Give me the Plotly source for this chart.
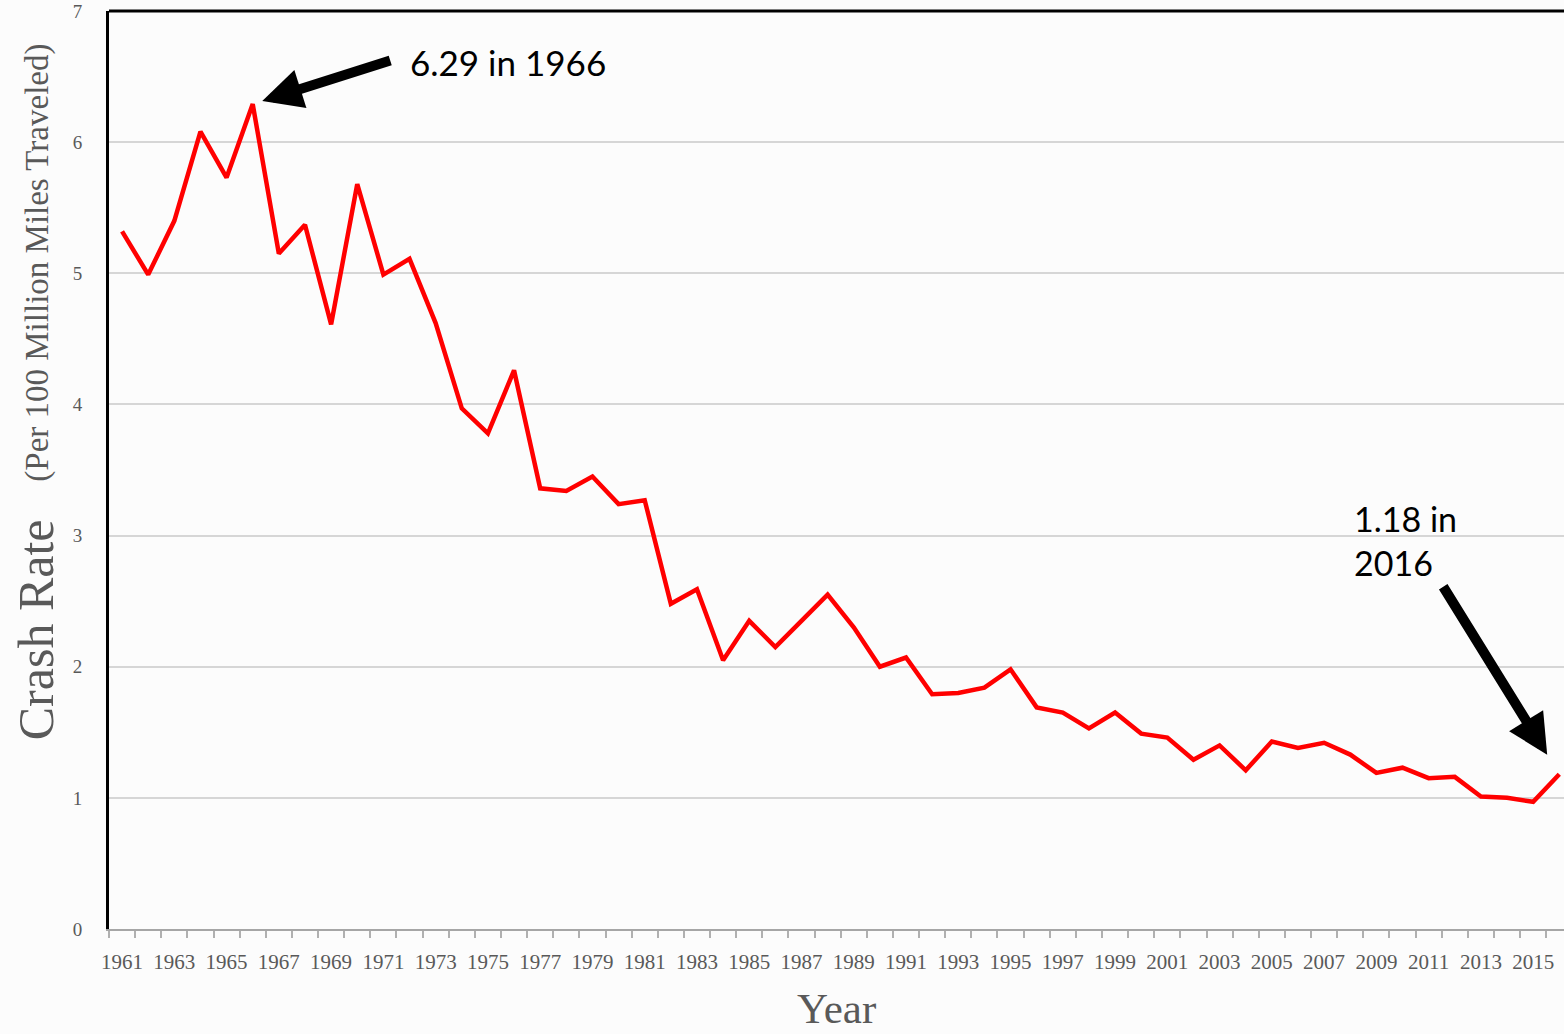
import plotly.graph_objects as go

years = list(range(1961, 2017))
crash_rate = [5.32, 4.99, 5.40, 6.08, 5.73, 6.29, 5.15, 5.37, 4.61, 5.68,
              4.99, 5.11, 4.62, 3.97, 3.78, 4.26, 3.36, 3.34, 3.45, 3.24,
              3.27, 2.48, 2.59, 2.05, 2.35, 2.15, 2.35, 2.55, 2.30, 2.00,
              2.07, 1.79, 1.80, 1.84, 1.98, 1.69, 1.65, 1.53, 1.65, 1.49,
              1.46, 1.29, 1.40, 1.21, 1.43, 1.38, 1.42, 1.33, 1.19, 1.23,
              1.15, 1.16, 1.01, 1.00, 0.97, 1.18]
tick_years = list(range(1961, 2016, 2))
y_ticks = [0, 1, 2, 3, 4, 5, 6, 7]

peak_label = "6.29 in 1966"
last_label = "1.18 in<br>2016"
y_title_main = "Crash Rate"
y_title_sub = "(Per 100 Million Miles Traveled)"
x_title = "Year"

GRAY = "#595959"
SERIF = "Liberation Serif, Times New Roman, serif"
SANS = "Lato, Liberation Sans, sans-serif"

fig = go.Figure()
fig.add_trace(go.Scatter(
    x=years, y=crash_rate, mode="lines",
    line=dict(color="#ff0000", width=4.5), hoverinfo="x+y", showlegend=False,
))

fig.update_layout(
    width=1564, height=1034,
    margin=dict(l=109, r=0, t=11, b=105),
    paper_bgcolor="#fcfcfc", plot_bgcolor="#fcfcfc",
    xaxis=dict(
        range=[1960.5, 2016.18],
        tickmode="array", tickvals=tick_years,
        ticktext=[str(y) for y in tick_years],
        ticks="", showgrid=False, zeroline=False,
        showline=True, linecolor="#a6a6a6", linewidth=2,
        tickfont=dict(family=SERIF, size=21, color=GRAY),
        ticklabelstandoff=13,
        minor=dict(tickmode="linear", tick0=1960.5, dtick=1, ticks="outside",
                   ticklen=7, tickwidth=1.5, tickcolor="#b0b0b0", showgrid=False),
    ),
    yaxis=dict(
        range=[0, 7], tickmode="array", tickvals=y_ticks,
        ticktext=[str(v) for v in y_ticks],
        showgrid=True, gridcolor="#d6d6d6", gridwidth=1.5,
        zeroline=False, showline=True, linecolor="black", linewidth=3,
        ticks="", tickfont=dict(family=SERIF, size=19, color=GRAY),
        ticklabelstandoff=20,
    ),
    shapes=[dict(type="line", xref="paper", yref="paper", x0=0, x1=1, y0=1, y1=1,
                 line=dict(color="black", width=3))],
    annotations=[
        dict(x=years[5], y=crash_rate[5], xref="x", yref="y", text="",
             showarrow=True, arrowhead=2, arrowsize=0.8, arrowwidth=10,
             arrowcolor="black", axref="pixel", ayref="pixel",
             ax=139, ay=-44, standoff=10),
        dict(x=years[-1], y=crash_rate[-1], xref="x", yref="y", text="",
             showarrow=True, arrowhead=2, arrowsize=0.8, arrowwidth=10,
             arrowcolor="black", axref="pixel", ayref="pixel",
             ax=-117, ay=-189, standoff=23),
        dict(x=0.2055, y=0.9444, xref="paper", yref="paper", text=peak_label,
             showarrow=False, xanchor="left", yanchor="middle",
             font=dict(family=SANS, size=35, color="black")),
        dict(x=0.8543, y=0.4227, xref="paper", yref="paper", text=last_label,
             showarrow=False, xanchor="left", yanchor="middle", align="left",
             font=dict(family=SANS, size=34, color="black")),
        dict(x=-0.050, y=0.3257, xref="paper", yref="paper", text=y_title_main,
             showarrow=False, textangle=-90, xanchor="center", yanchor="middle",
             font=dict(family=SERIF, size=50, color=GRAY)),
        dict(x=-0.049, y=0.7255, xref="paper", yref="paper", text=y_title_sub,
             showarrow=False, textangle=-90, xanchor="center", yanchor="middle",
             font=dict(family=SERIF, size=33, color=GRAY)),
        dict(x=0.5, y=-0.0861, xref="paper", yref="paper", text=x_title,
             showarrow=False, xanchor="center", yanchor="middle",
             font=dict(family=SERIF, size=43, color=GRAY)),
    ],
)

fig.write_html(
    "out.html",
    config={"displayModeBar": False},
    post_script="document.body.style.margin='0px';document.body.style.overflow='hidden';",
)
